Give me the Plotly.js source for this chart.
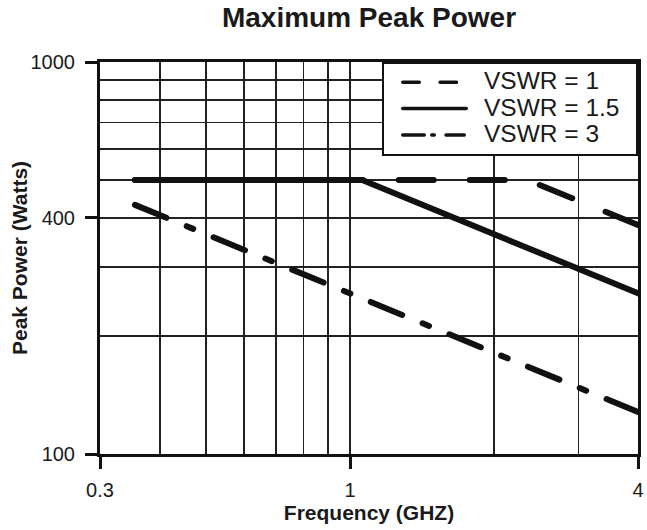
<!DOCTYPE html>
<html><head><meta charset="utf-8">
<script src="https://cdn.plot.ly/plotly-3.0.1.min.js"></script>
<style>
html,body{margin:0;padding:0;background:#fff;}
#chart{width:647px;height:530px;}
.scatterlayer .js-line{stroke-linecap:round;stroke-linejoin:round;}
.scatterlayer .trace:nth-child(1) .js-line{stroke-dashoffset:20.2px;}
.legendtext{font-size:24.5px !important;}
.legend .legendtext{transform:translateX(-11px);}
.legend .js-line{stroke-width:3.5px !important;stroke-linecap:round;}
.legend .traces:nth-child(1) .js-line{stroke-dasharray:16.5px,20.8px,16.5px,1000px !important;stroke-dashoffset:1040.05px;}
.legend .traces:nth-child(2) .js-line{stroke-dasharray:63.5px,1000px !important;stroke-dashoffset:1049.75px;}
.legend .traces:nth-child(3) .js-line{stroke-dasharray:21.5px,7.5px,2.5px,11.75px,18.25px,1000px !important;stroke-dashoffset:1047.75px;}
.g-ytitle{transform:translate(4px,0);}
</style></head>
<body><div id="chart"></div>
<script>
var seriesNames = ['VSWR = 1', 'VSWR = 1.5', 'VSWR = 3'];
var freqVSWR1 = [0.355, 2.35, 4];
var powerVSWR1 = [500, 500, 384];
var freqVSWR15 = [0.355, 1.06, 4];
var powerVSWR15 = [500, 500, 257];
var freqVSWR3 = [0.355, 4];
var powerVSWR3 = [432, 128];
var xTickVals = [0.3, 1, 4];
var xTickText = ['0.3', '1', '4'];
var xGridVals = [0.4, 0.5, 0.6, 0.7, 0.8, 0.9, 2, 3];
var yTickVals = [100, 400, 1000];
var yTickText = ['100', '400', '1000'];
var yGridVals = [200, 300, 500, 600, 700, 800, 900];

var ink = '#111';
var txt = '#1a1a1a';
var traces = [
  {x: freqVSWR1, y: powerVSWR1, name: seriesNames[0], type: 'scatter', mode: 'lines',
   line: {color: ink, width: 6, dash: '35px,36px'}},
  {x: freqVSWR15, y: powerVSWR15, name: seriesNames[1], type: 'scatter', mode: 'lines',
   line: {color: ink, width: 6, dash: 'solid'}},
  {x: freqVSWR3, y: powerVSWR3, name: seriesNames[2], type: 'scatter', mode: 'lines',
   line: {color: ink, width: 6, dash: '34px,22px,7px,22px'}}
];

var layout = {
  width: 647, height: 530,
  margin: {l: 100, r: 9, t: 62, b: 76, pad: 0},
  paper_bgcolor: '#fff', plot_bgcolor: '#fff',
  font: {family: '"Liberation Sans", Arial, sans-serif', color: txt, size: 20},
  title: {text: 'Maximum Peak Power', font: {size: 28, weight: 'bold', color: txt},
          x: 0.5, xref: 'paper', xanchor: 'center', y: 0.9675, yref: 'container', yanchor: 'middle'},
  xaxis: {type: 'log', range: [Math.log10(0.3), Math.log10(4)],
          tickmode: 'array', tickvals: xTickVals, ticktext: xTickText,
          ticks: 'outside', ticklen: 12, tickwidth: 3, tickcolor: ink,
          showline: true, mirror: true, linewidth: 3, linecolor: ink,
          showgrid: true, gridcolor: '#222', gridwidth: 1.5, zeroline: false,
          ticklabelstandoff: 4, tickfont: {size: 20, color: txt},
          title: {text: 'Frequency (GHZ)', font: {size: 21, weight: 'bold', color: txt}, standoff: 6},
          minor: {tickmode: 'array', tickvals: xGridVals, showgrid: true, gridcolor: '#222', gridwidth: 1.5, ticks: ''},
          fixedrange: true},
  yaxis: {type: 'log', range: [2, 3],
          tickmode: 'array', tickvals: yTickVals, ticktext: yTickText,
          ticks: 'outside', ticklen: 12, tickwidth: 3, tickcolor: ink,
          showline: true, mirror: true, linewidth: 3, linecolor: ink,
          showgrid: true, gridcolor: '#222', gridwidth: 1.5, zeroline: false,
          ticklabelstandoff: 6, tickfont: {size: 20, color: txt},
          title: {text: 'Peak Power (Watts)', font: {size: 21, weight: 'bold', color: txt}, standoff: 2},
          minor: {tickmode: 'array', tickvals: yGridVals, showgrid: true, gridcolor: '#222', gridwidth: 1.5, ticks: ''},
          fixedrange: true},
  legend: {x: 1, xanchor: 'right', y: 1, yanchor: 'top', bgcolor: '#fff',
           bordercolor: ink, borderwidth: 2, font: {size: 18, color: txt},
           itemwidth: 101, tracegroupgap: 0},
  showlegend: true
};
Plotly.newPlot('chart', traces, layout, {displayModeBar: false, staticPlot: true});
</script></body></html>
